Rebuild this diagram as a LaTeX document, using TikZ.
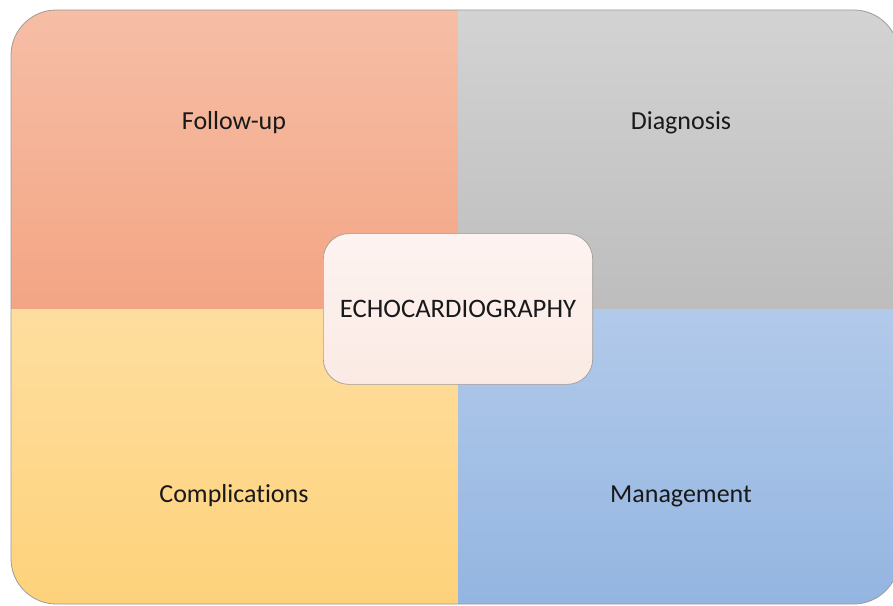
\documentclass[tikz,border=0pt]{standalone}
\usepackage{fontspec}
\setmainfont{Carlito}[Ligatures={NoCommon}]
\usetikzlibrary{positioning}
\definecolor{pRedTop}{HTML}{F6BEA6}
\definecolor{pRedBot}{HTML}{F3A584}
\definecolor{pGrayTop}{HTML}{D3D3D3}
\definecolor{pGrayBot}{HTML}{BDBDBD}
\definecolor{pYellowTop}{HTML}{FEDE9F}
\definecolor{pYellowBot}{HTML}{FED27B}
\definecolor{pBlueTop}{HTML}{B2CAEA}
\definecolor{pBlueBot}{HTML}{94B5E1}
\definecolor{pHubTop}{HTML}{FDF3F0}
\definecolor{pHubBot}{HTML}{FBEAE4}
\definecolor{pEdge}{HTML}{A09A96}

\begin{document}
\begin{tikzpicture}[x=0.75pt, y=-0.75pt,
    quadlabel/.style={font=\fontsize{19.5}{23}\selectfont, text=black!90},
    hub/.style={draw=pEdge, line width=0.5pt, rounded corners=19pt,
      top color=pHubTop, bottom color=pHubBot,
      minimum width=202pt, minimum height=113pt,
      font=\fontsize{20}{24}\selectfont, text=black!90}]
    \useasboundingbox (0,0) rectangle (893,606);

    % four quadrants, clipped to the rounded frame
    \begin{scope}
      \clip[rounded corners=34pt] (11,10) rectangle (899,604);
      \shade[top color=pRedTop, bottom color=pRedBot] (11,10) rectangle (458,309);
      \shade[top color=pGrayTop, bottom color=pGrayBot] (458,10) rectangle (899,309);
      \shade[top color=pYellowTop, bottom color=pYellowBot] (11,309) rectangle (458,604);
      \shade[top color=pBlueTop, bottom color=pBlueBot] (458,309) rectangle (899,604);
    \end{scope}
    \draw[pEdge, line width=0.6pt, rounded corners=34pt] (11,10) rectangle (899,604);

    \node[quadlabel] (followup) at (234,123) {Follow-up};
    \node[quadlabel] (diagnosis) at (681,123) {Diagnosis};
    \node[quadlabel] (complications) at (234,496) {Complications};
    \node[quadlabel] (management) at (681,496) {Management};

    \node[hub] (echo) at (458,309) {ECHOCARDIOGRAPHY};

  \end{tikzpicture}
\end{document}
